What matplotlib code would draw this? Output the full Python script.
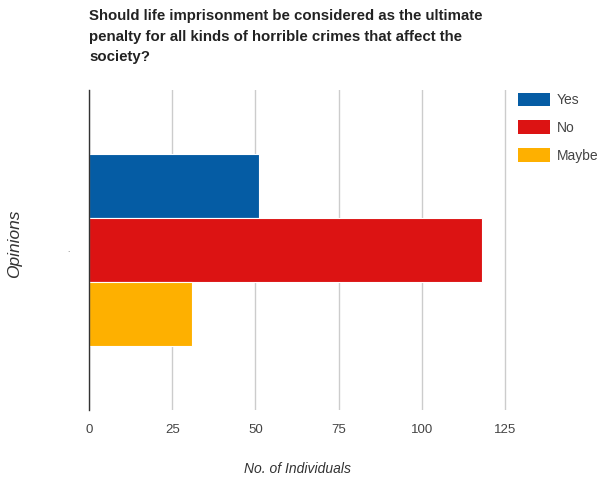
import matplotlib
matplotlib.use("Agg")
import matplotlib.pyplot as plt
from matplotlib.patches import Patch

plt.rcParams['font.family'] = ['Liberation Sans', 'DejaVu Sans']

title = "Should life imprisonment be considered as the ultimate\npenalty for all kinds of horrible crimes that affect the\nsociety?"
series = ["Yes", "No", "Maybe"]
values = [51, 118, 31]
colors = ["#055ca4", "#dc1313", "#feb000"]
xticks = [0, 25, 50, 75, 100, 125]
xlabel = "No. of Individuals"
ylabel = "Opinions"

fig = plt.figure(figsize=(6.01, 4.83), dpi=100)
ax = fig.add_axes([89/601, 1-410/483, (507-89)/601, 320/483])

positions = [0.7, 0.5, 0.3]
bar_h = 0.2
for pos, v, c in zip(positions, values, colors):
    ax.barh(pos, v, height=bar_h, color=c, edgecolor="white", linewidth=0.8, zorder=3)

ax.set_xlim(0, 125.6)
ax.set_ylim(0, 1)
ax.set_xticks(xticks)
ax.set_xticklabels([str(t) for t in xticks])
ax.set_yticks([0.5])
ax.set_yticklabels(["."], fontsize=6, color="#666666")
ax.tick_params(axis='x', length=0, pad=10, labelsize=9.5, labelcolor="#444444")
ax.tick_params(axis='y', length=0, pad=14)
ax.grid(axis='x', color="#cccccc", linewidth=1, zorder=0)
for s in ["top", "right", "bottom"]:
    ax.spines[s].set_visible(False)
ax.spines["left"].set_color("#333333")
ax.spines["left"].set_linewidth(1)
ax.spines["left"].set_zorder(4)

ax.set_xlabel(xlabel, fontstyle="italic", fontsize=10, color="#333333", labelpad=19)
ax.set_ylabel(ylabel, fontstyle="italic", fontsize=12.5, color="#333333", va="center")
ax.yaxis.set_label_coords(-74/418, 0.52)

fig.text(89/601, 1-9/483, title, ha="left", va="top", fontsize=10.8,
         fontweight="bold", color="#222222", linespacing=1.6)

handles = [Patch(facecolor=c, edgecolor="none") for c in colors]
leg = fig.legend(handles, series, loc="upper left", bbox_to_anchor=(512/601, 1-87/483),
                 frameon=False, fontsize=10, handlelength=2.3, handleheight=1.15,
                 labelspacing=0.95, handletextpad=0.5, borderaxespad=0)
for t in leg.get_texts():
    t.set_color("#444444")

fig.savefig("out.png", dpi=100)
